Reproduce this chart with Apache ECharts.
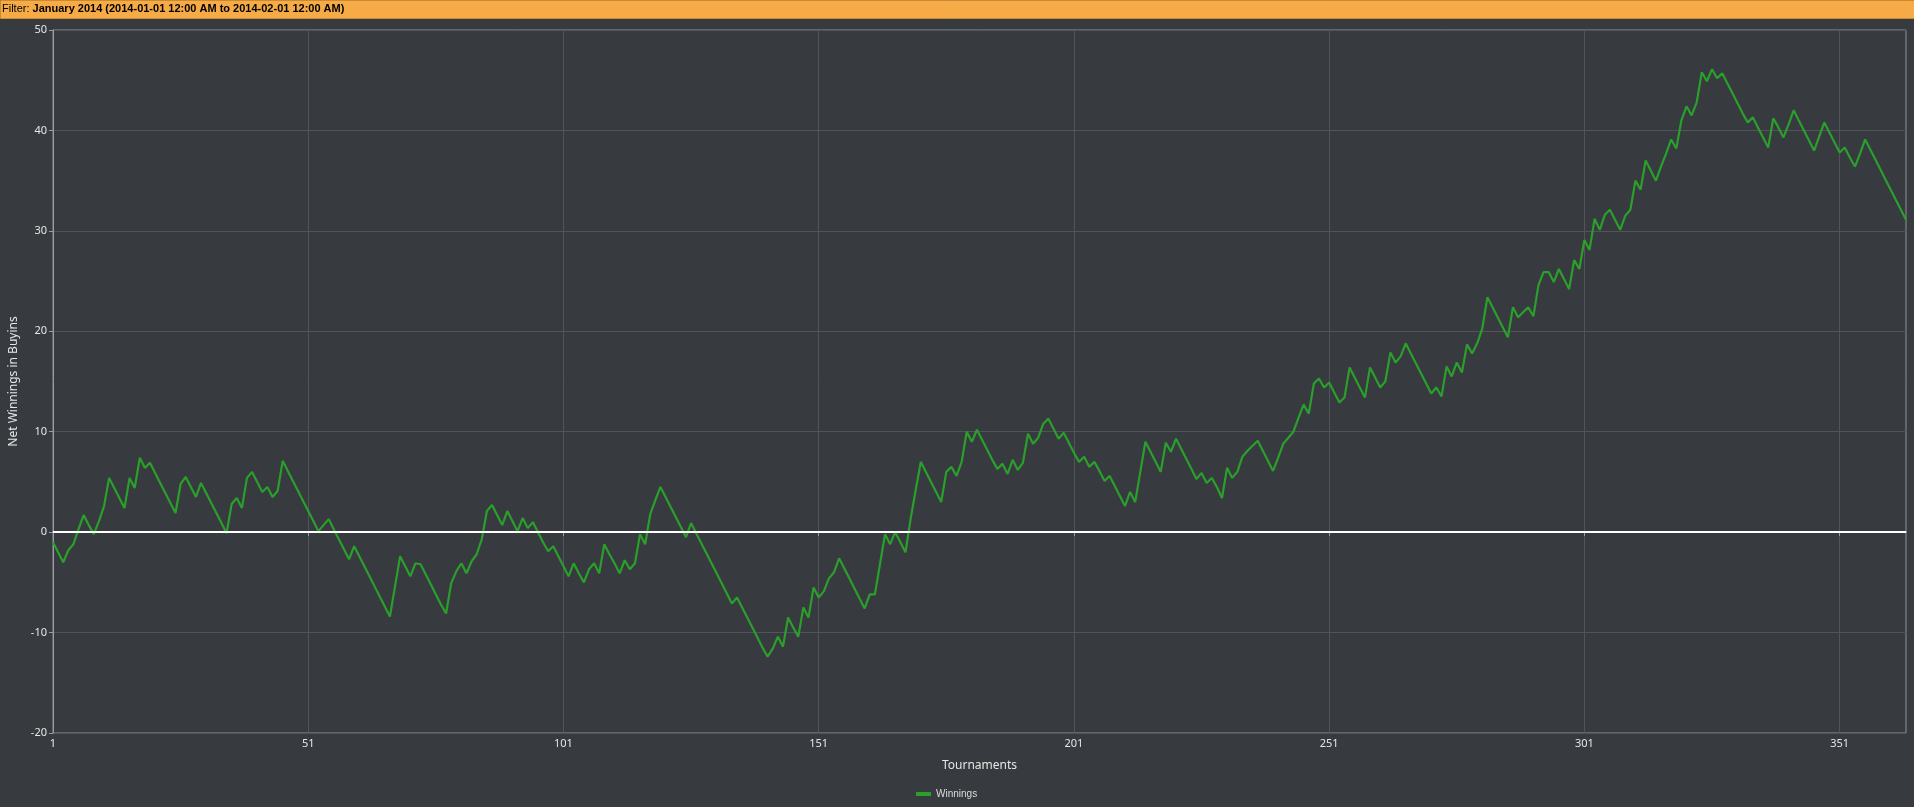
<!DOCTYPE html>
<html>
<head>
<meta charset="utf-8">
<title>Net Winnings</title>
<script src="https://cdn.jsdelivr.net/npm/echarts/dist/echarts.min.js"></script>
<style>
html, body { margin: 0; padding: 0; background: #373a3e; }
#chart { width: 1914px; height: 807px; }
</style>
</head>
<body>
<div id="chart"></div>
<script>
// running net winnings after each tournament (buyins)
var winnings = [
	-1.0, -2.0, -3.0, -1.8, -1.2, 0.3, 1.7, 0.7, -0.2, 1.1,
	2.6, 5.4, 4.4, 3.4, 2.4, 5.4, 4.4, 7.4, 6.4, 6.9,
	5.9, 4.9, 3.9, 2.9, 1.9, 4.8, 5.5, 4.5, 3.5, 4.9,
	3.9, 2.9, 1.9, 0.9, -0.1, 2.8, 3.4, 2.4, 5.4, 6.0,
	5.0, 4.0, 4.5, 3.5, 4.1, 7.1, 6.1, 5.1, 4.1, 3.1,
	2.1, 1.1, 0.1, 0.7, 1.3, 0.3, -0.7, -1.7, -2.7, -1.4,
	-2.4, -3.4, -4.4, -5.4, -6.4, -7.4, -8.4, -5.4, -2.4, -3.4,
	-4.4, -3.1, -3.2, -4.2, -5.2, -6.2, -7.2, -8.1, -5.1, -3.9,
	-3.1, -4.1, -2.9, -2.2, -0.7, 2.1, 2.7, 1.7, 0.7, 2.1,
	1.1, 0.1, 1.4, 0.4, 1.0, 0.0, -1.0, -1.9, -1.4, -2.4,
	-3.4, -4.4, -3.1, -4.1, -5.0, -3.7, -3.1, -4.1, -1.2, -2.2,
	-3.1, -4.1, -2.8, -3.7, -3.1, -0.2, -1.2, 1.8, 3.2, 4.5,
	3.5, 2.5, 1.5, 0.5, -0.5, 0.9, -0.1, -1.1, -2.1, -3.1,
	-4.1, -5.1, -6.1, -7.1, -6.5, -7.5, -8.5, -9.5, -10.5, -11.5,
	-12.4, -11.6, -10.4, -11.4, -8.5, -9.5, -10.4, -7.5, -8.5, -5.5,
	-6.5, -5.9, -4.6, -4.0, -2.6, -3.6, -4.6, -5.6, -6.6, -7.6,
	-6.2, -6.2, -3.2, -0.2, -1.2, 0.0, -1.0, -2.0, 1.3, 4.2,
	7.0, 6.0, 5.0, 4.0, 3.0, 6.0, 6.5, 5.6, 7.0, 10.0,
	9.0, 10.2, 9.2, 8.2, 7.2, 6.3, 6.8, 5.8, 7.2, 6.2,
	6.9, 9.8, 8.8, 9.4, 10.8, 11.3, 10.3, 9.3, 9.9, 8.9,
	7.9, 7.0, 7.5, 6.5, 7.0, 6.1, 5.1, 5.6, 4.6, 3.6,
	2.6, 4.0, 3.0, 6.0, 9.0, 8.0, 7.0, 6.0, 8.9, 8.0,
	9.3, 8.3, 7.3, 6.3, 5.3, 5.9, 4.9, 5.4, 4.5, 3.4,
	6.4, 5.4, 6.0, 7.5, 8.1, 8.6, 9.1, 8.1, 7.1, 6.1,
	7.4, 8.8, 9.4, 10.0, 11.4, 12.7, 11.8, 14.8, 15.3, 14.4,
	14.9, 13.9, 12.9, 13.4, 16.4, 15.4, 14.4, 13.4, 16.4, 15.4,
	14.4, 15.0, 17.9, 16.9, 17.5, 18.8, 17.8, 16.8, 15.8, 14.8,
	13.8, 14.4, 13.5, 16.5, 15.5, 16.9, 15.9, 18.7, 17.8, 18.8,
	20.3, 23.4, 22.4, 21.4, 20.4, 19.4, 22.4, 21.4, 21.9, 22.4,
	21.5, 24.6, 25.9, 25.9, 24.9, 26.2, 25.2, 24.2, 27.1, 26.2,
	29.1, 28.1, 31.2, 30.1, 31.6, 32.1, 31.1, 30.1, 31.5, 32.1,
	35.0, 34.1, 37.0, 36.0, 35.0, 36.4, 37.7, 39.1, 38.2, 41.0,
	42.4, 41.5, 42.8, 45.8, 44.9, 46.1, 45.2, 45.7, 44.7, 43.7,
	42.7, 41.7, 40.8, 41.3, 40.3, 39.3, 38.3, 41.2, 40.3, 39.3,
	40.6, 42.0, 41.0, 40.0, 39.0, 38.0, 39.4, 40.8, 39.8, 38.8,
	37.8, 38.3, 37.3, 36.4, 37.7, 39.1, 38.1, 37.1, 36.1, 35.1,
	34.1, 33.1, 32.1, 31.1
];

// tournament numbers 1..n
var tournaments = [];
for (var i = 0; i < winnings.length; i++) {
	tournaments.push(String(i + 1));
}

var yTicks = { min: -20, max: 50, step: 10 };
var filterLabel = 'Filter: ';
var filterText = 'January 2014 (2014-01-01 12:00 AM to 2014-02-01 12:00 AM)';

var myChart = echarts.init(document.getElementById('chart'));
var option = {
	backgroundColor: '#373a3e',
	animation: false,
	graphic: [
		{
			type: 'rect',
			left: 0, top: 0,
			shape: { width: 1914, height: 18 },
			style: { fill: '#f6ab47', stroke: '#c98a34', lineWidth: 1 }
		},
		{
			type: 'text',
			left: 2, top: 3,
			style: {
				text: '{a|' + filterLabel + '}{b|' + filterText + '}',
				rich: {
					a: { fontFamily: 'Liberation Sans', fontSize: 11, color: '#1d1d1d' },
					b: { fontFamily: 'Liberation Sans', fontSize: 11, fontWeight: 'bold', color: '#1d1d1d' }
				}
			}
		}
	],
	grid: {
		left: 53,
		right: 8,
		top: 30,
		bottom: 74,
		outerBoundsMode: 'none',
		containLabel: false,
		show: true,
		borderColor: '#8e9194',
		borderWidth: 1
	},
	legend: {
		data: ['Winnings'],
		bottom: 3,
		left: 911,
		icon: 'rect',
		itemWidth: 15,
		itemHeight: 4,
		itemGap: 4,
		textStyle: { color: '#dcdcdc', fontSize: 10, fontFamily: 'Liberation Sans' }
	},
	xAxis: {
		type: 'category',
		boundaryGap: false,
		data: tournaments,
		name: 'Tournaments',
		nameLocation: 'middle',
		nameGap: 27,
		nameTextStyle: { color: '#e6e6e6', fontSize: 12, fontFamily: 'Noto Sans' },
		axisLine: { lineStyle: { color: '#9a9c9e', width: 2 } },
		axisTick: { interval: 49, length: 4, lineStyle: { color: '#9a9c9e' } },
		axisLabel: { interval: 49, color: '#e6e6e6', fontSize: 11, fontFamily: 'Noto Sans', margin: 5 },
		splitLine: { show: true, interval: 49, lineStyle: { color: '#51555a', width: 1 } }
	},
	yAxis: {
		type: 'value',
		min: yTicks.min,
		max: yTicks.max,
		interval: yTicks.step,
		name: 'Net Winnings in Buyins',
		nameLocation: 'middle',
		nameGap: 33,
		nameTextStyle: { color: '#e6e6e6', fontSize: 12, fontFamily: 'Noto Sans' },
		axisLine: { show: true, lineStyle: { color: '#9a9c9e', width: 1 } },
		axisTick: { show: true, length: 4, lineStyle: { color: '#9a9c9e' } },
		axisLabel: { color: '#e6e6e6', fontSize: 11, fontFamily: 'Noto Sans', margin: 6 },
		splitLine: { lineStyle: { color: '#51555a', width: 1 } }
	},
	series: [
		{
			name: 'Winnings',
			type: 'line',
			data: winnings,
			symbol: 'none',
			color: '#2a9f2c',
			lineStyle: { color: '#2a9f2c', width: 2.2 },
			markLine: {
				silent: true,
				symbol: 'none',
				label: { show: false },
				lineStyle: { color: '#ffffff', width: 2, type: 'solid' },
				data: [{ yAxis: 0 }]
			}
		}
	]
};
myChart.setOption(option);
</script>
</body>
</html>
